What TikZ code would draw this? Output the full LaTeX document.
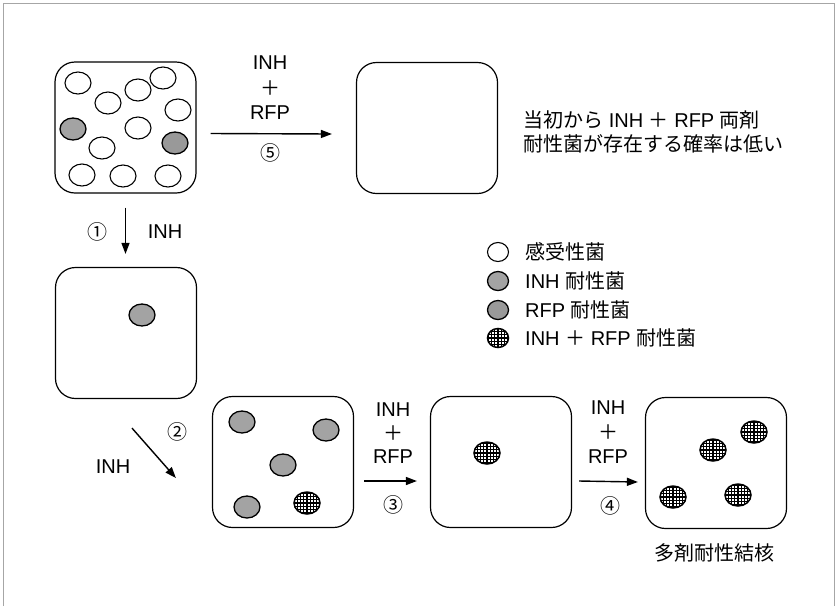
\documentclass[tikz,border=0pt]{standalone}
\usepackage{fontspec}
\setmainfont{Liberation Sans}
\newfontfamily\cjk{Noto Sans CJK JP}
\usetikzlibrary{shapes.geometric,arrows.meta}
\begin{document}
\begin{tikzpicture}[x=1pt,y=-1pt,
  box/.style={draw, line width=1.2pt, rounded corners=20pt, minimum width=141pt, minimum height=131pt, inner sep=0pt},
  bact/.style={ellipse, draw, line width=1.1pt, minimum width=26pt, minimum height=22pt, inner sep=0pt},
  sens/.style={bact, fill=white},
  inh/.style={bact, fill=gray!72, line width=1.3pt},
  rfp/.style={bact, fill=gray!80, line width=1.3pt},
  both/.style={bact, fill=white, line width=1.5pt, path picture={
      \foreach \k in {-5,...,5}{
        \draw[line width=1.1pt] ([xshift=\k*3.3pt]path picture bounding box.center) ++(0,-20) -- ++(0,40);
        \draw[line width=1.1pt] ([yshift=\k*3.3pt]path picture bounding box.center) ++(-20,0) -- ++(40,0);
      }}},
  leg/.style={minimum width=21pt, minimum height=19pt},
  arr/.style={-{Triangle[length=11pt,width=8pt]}, line width=1.4pt},
  lat/.style={font=\fontsize{20}{22}\selectfont, inner sep=0pt},
  num/.style={font=\cjk\fontsize{20}{22}\selectfont, inner sep=0pt},
  jp/.style={font=\fontsize{20}{24}\selectfont, inner sep=0pt, anchor=west}
]
\useasboundingbox (0,0) rectangle (837,606);
\draw[gray!70, line width=1pt] (3,606) -- (3,3) -- (834,3) -- (834,606);

% boxes
\node[box] (A) at (125.5,127.5) {};
\node[box] (B) at (427,128) {};
\node[box] (C) at (126,333) {};
\node[box] (D) at (283,462) {};
\node[box] (E) at (501,462) {};
\node[box] (F) at (716,463) {};

% box A bacteria
\node[sens] (a1) at (78,83) {};
\node[sens] (a2) at (163,78) {};
\node[sens] (a3) at (138,90) {};
\node[sens] (a4) at (108,103) {};
\node[sens] (a5) at (178,110) {};
\node[inh]  (a6) at (73,129) {};
\node[sens] (a7) at (138,128) {};
\node[rfp]  (a8) at (175,143) {};
\node[sens] (a9) at (102,148) {};
\node[sens] (a10) at (82,175) {};
\node[sens] (a11) at (123,176) {};
\node[sens] (a12) at (168,176) {};

% box C
\node[inh] (c1) at (142,315) {};

% box D
\node[inh] (d1) at (242,422) {};
\node[inh] (d2) at (326,430) {};
\node[inh] (d3) at (283,465) {};
\node[inh] (d4) at (247,507) {};
\node[both] (d5) at (307,503) {};

% box E
\node[both] (e1) at (487,453) {};

% box F
\node[both] (f1) at (754,432) {};
\node[both] (f2) at (713,450) {};
\node[both] (f3) at (673,497) {};
\node[both] (f4) at (738,495) {};

% arrow 5
\draw[arr] ([xshift=14pt,yshift=-6pt]A.east) -- ([xshift=-24pt,yshift=-6pt]B.west);
\node[lat] (l5a) at (270,63) {INH};
\node[lat,font=\cjk\fontsize{20}{22}\selectfont] (l5b) at (270,88) {＋};
\node[lat] (l5c) at (270,113) {RFP};
\node[num] (n5) at (270,153) {⑤};

% arrow 1
\draw[arr, shorten <=14pt, shorten >=13pt] (A.south) -- (A.south |- C.north);
\node[num] (n1) at (97,232) {①};
\node[lat] (l1) at (165,232) {INH};

% arrow 2
\draw[arr] ([xshift=6pt,yshift=-29pt]C.south) -- ([xshift=-36pt,yshift=-16pt]D.west);
\node[num] (n2) at (177,432) {②};
\node[lat] (l2) at (113,467) {INH};

% arrow 3
\draw[arr] ([xshift=10pt,yshift=-19pt]D.east) -- ([xshift=-13pt,yshift=-19pt]E.west);
\node[lat] (l3a) at (393,410) {INH};
\node[lat,font=\cjk\fontsize{20}{22}\selectfont] (l3b) at (393,433) {＋};
\node[lat] (l3c) at (393,457) {RFP};
\node[num] (n3) at (393,505) {③};

% arrow 4
\draw[arr] ([xshift=7pt,yshift=-19pt]E.east) -- ([xshift=-7pt,yshift=-19pt]F.west);
\node[lat] (l4a) at (608,408) {INH};
\node[lat,font=\cjk\fontsize{20}{22}\selectfont] (l4b) at (608,432) {＋};
\node[lat] (l4c) at (608,457) {RFP};
\node[num] (n4) at (610,506) {④};

% right text
\node[jp] (t1) at (523,120) {{\cjk 当初から} INH {\cjk ＋} RFP {\cjk 両剤}};
\node[jp] (t2) at (523,144) {\cjk 耐性菌が存在する確率は低い};

% legend
\node[sens,leg] (g1) at (498,252) {};
\node[inh,leg]  (g2) at (498,281) {};
\node[rfp,leg]  (g3) at (498,310) {};
\node[both,leg] (g4) at (498,338) {};
\node[jp] (gt1) at (525,252) {\cjk 感受性菌};
\node[jp] (gt2) at (525,281) {INH {\cjk 耐性菌}};
\node[jp] (gt3) at (525,310) {RFP {\cjk 耐性菌}};
\node[jp] (gt4) at (525,338) {INH {\cjk ＋} RFP {\cjk 耐性菌}};

% bottom label
\node[jp, anchor=center, font=\cjk\fontsize{20}{24}\selectfont] (mdr) at (714,553) {多剤耐性結核};
\end{tikzpicture}
\end{document}
